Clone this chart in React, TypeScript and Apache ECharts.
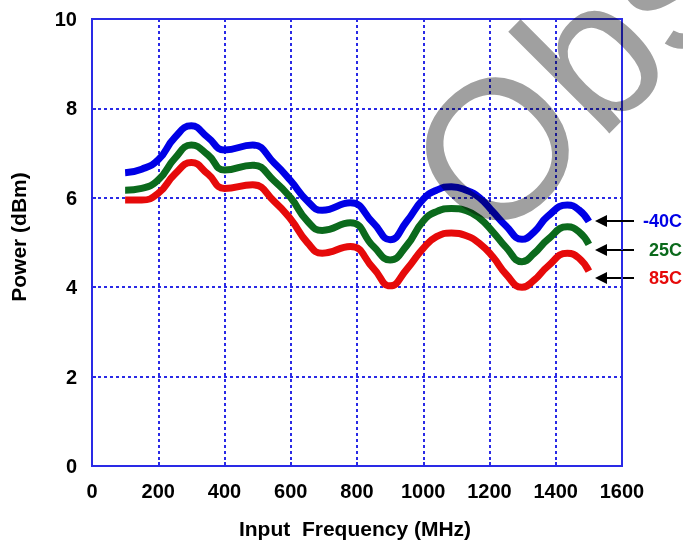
import React, { useEffect, useRef } from "react";
import * as echarts from "echarts";

const freqs = [100,150,200,250,300,350,400,485,550,600,650,695,780,850,900,950,1000,1040,1085,1130,1170,1210,1250,1298,1335,1375,1435,1470,1500];
const blueM40 = [6.56,6.64,6.85,7.35,7.61,7.35,7.07,7.18,6.78,6.38,5.93,5.72,5.89,5.43,5.06,5.47,5.97,6.17,6.25,6.17,6.0,5.69,5.37,5.07,5.24,5.58,5.84,5.73,5.47];
const green25 = [6.17,6.21,6.4,6.88,7.18,6.96,6.62,6.73,6.38,6.0,5.48,5.27,5.44,4.91,4.61,4.93,5.48,5.69,5.76,5.71,5.54,5.24,4.89,4.57,4.76,5.06,5.35,5.24,4.96];
const red85 = [5.95,5.95,6.1,6.53,6.79,6.53,6.21,6.29,5.92,5.52,5.0,4.76,4.91,4.42,4.03,4.4,4.87,5.13,5.21,5.15,4.98,4.68,4.29,4.0,4.16,4.46,4.76,4.65,4.36];
const seriesNames = ["-40C", "25C", "85C"];
const seriesColors = ["#0000e6", "#0b6a1c", "#e60a0a"];
const xTicks = [0,200,400,600,800,1000,1200,1400,1600];
const yTicks = [0,2,4,6,8,10];
const xTitle = "Input  Frequency (MHz)";
const yTitle = "Power (dBm)";
const watermark = "Obsolete";

export default function App() {
  const ref = useRef<HTMLDivElement>(null);
  useEffect(() => {
    if (!ref.current) return;
    const chart = echarts.init(ref.current, null, { renderer: "svg" });
    const all = [blueM40, green25, red85];
    const font = "Arial, 'Liberation Sans', sans-serif";
    const gridColor = "#2a2ae6";
    const labelYs = [221, 250, 278];
    const graphics: any[] = [];
    labelYs.forEach((y, i) => {
      graphics.push({ type: "line", shape: { x1: 604, y1: y, x2: 634, y2: y }, style: { stroke: "#000", lineWidth: 2 } });
      graphics.push({ type: "polygon", shape: { points: [[595, y], [607, y - 6], [607, y + 6]] }, style: { fill: "#000" } });
      graphics.push({ type: "text", x: 682, y: y, style: { text: seriesNames[i], fill: seriesColors[i], font: `bold 18px ${font}`, textAlign: "right", textVerticalAlign: "middle" } });
    });
    graphics.push({ type: "text", x: 355, y: 528, style: { text: xTitle, fill: "#000", font: `bold 21px ${font}`, textAlign: "center", textVerticalAlign: "middle" } });
    graphics.push({ type: "text", x: 18, y: 237, rotation: Math.PI / 2, style: { text: yTitle, fill: "#000", font: `bold 21px ${font}`, textAlign: "center", textVerticalAlign: "middle" } });
    graphics.push({ type: "text", x: 443, y: 203, rotation: Math.PI / 4, z: 100, style: { text: watermark, fill: "#a0a0a0", font: `198px ${font}`, textAlign: "left", textVerticalAlign: "middle" } });

    chart.setOption({
      animation: false,
      backgroundColor: "#fff",
      grid: { left: 92, right: 61, top: 19, bottom: 82, show: true, borderColor: gridColor, borderWidth: 2, backgroundColor: "transparent" },
      xAxis: {
        type: "value", min: xTicks[0], max: xTicks[xTicks.length - 1], interval: 200,
        axisLine: { show: true, lineStyle: { color: gridColor, width: 2 } },
        axisTick: { show: true, inside: true, length: 4, lineStyle: { color: gridColor, width: 2 } },
        axisLabel: { color: "#000", fontWeight: "bold", fontSize: 20, fontFamily: font, margin: 15, formatter: (v: number) => String(v) },
        splitLine: { show: true, lineStyle: { color: gridColor, width: 2, type: [3, 3] } },
      },
      yAxis: {
        type: "value", min: yTicks[0], max: yTicks[yTicks.length - 1], interval: 2,
        axisLine: { show: true, lineStyle: { color: gridColor, width: 2 } },
        axisTick: { show: true, inside: true, length: 4, lineStyle: { color: gridColor, width: 2 } },
        axisLabel: { color: "#000", fontWeight: "bold", fontSize: 20, fontFamily: font, margin: 15, formatter: (v: number) => String(v) },
        splitLine: { show: true, lineStyle: { color: gridColor, width: 2, type: [3, 3] } },
      },
      series: all.map((vals, i) => ({
        type: "line",
        name: seriesNames[i],
        data: freqs.map((f, j) => [f, vals[j]]),
        smooth: 0.5,
        showSymbol: false,
        lineStyle: { color: seriesColors[i], width: 7 },
        z: 3,
      })),
      graphic: graphics,
    });
    const applyBlend = () => {
      const texts = ref.current ? ref.current.querySelectorAll("text") : [];
      texts.forEach((t: any) => {
        if (t.textContent === watermark) t.style.mixBlendMode = "multiply";
      });
    };
    applyBlend();
    chart.on("finished", applyBlend);
    return () => chart.dispose();
  }, []);
  return <div ref={ref} style={{ position: "absolute", left: 0, top: 0, width: 683, height: 548, background: "#fff" }} />;
}
